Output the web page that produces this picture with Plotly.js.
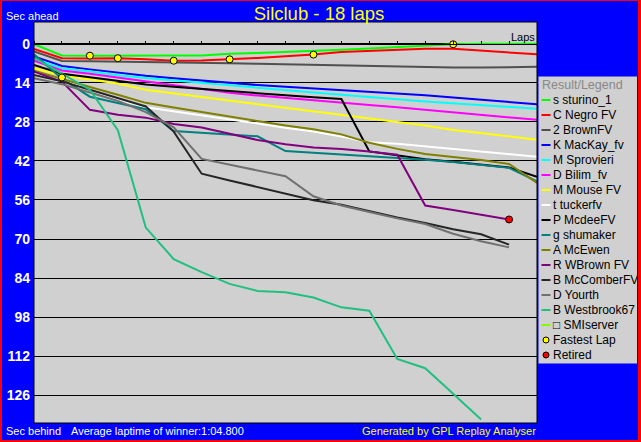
<!DOCTYPE html>
<html>
<head>
<meta charset="utf-8">
<script src="https://cdn.plot.ly/plotly-3.0.1.min.js"></script>
<style>
  html, body { margin: 0; padding: 0; background: #ff0000; width: 641px; height: 442px; overflow: hidden; }
  #chart { position: absolute; left: 2px; top: 1px; width: 636px; height: 439px; }
</style>
</head>
<body>
<div id="chart"></div>
<script>
// ---------------- data ----------------
const laps = [0,1,2,3,4,5,6,7,8,9,10,11,12,13,14,15,16,17,18];

const drivers = ["s sturino_1","C Negro FV","2 BrownFV","K MacKay_fv","M Sprovieri","D Bilim_fv",
  "M Mouse FV","t tuckerfv","P McdeeFV","g shumaker","A McEwen","R WBrown FV",
  "B McComberFV","D Yourth","B Westbrook67","\u25A1 SMIserver"];

const colors = ["#00ff00","#ff0000","#505050","#0000ff","#00ffff","#ff00ff",
  "#ffff00","#ffffff","#000000","#008080","#808000","#800080",
  "#262626","#707070","#20c080","#80ff00"];

const sturino    = [0.2,4.2,4.3,4.2,4.2,4.2,4.2,3.6,3.3,3.0,2.7,2.2,1.7,1.2,0.7,0.2,0,0,0];
const negro      = [1.9,5.2,5.3,5.2,5.6,6.1,6.0,5.6,5.1,4.5,3.9,3.0,2.6,2.1,1.8,1.8,2.4,3.1,3.8];
const brownfv    = [2.8,6.2,6.3,6.4,6.5,6.6,6.8,7.0,7.2,7.4,7.6,7.8,7.9,8.1,8.3,8.5,8.5,8.4,8.3];
const mackay     = [4.6,8.0,9.2,10.4,11.5,12.4,13.2,14.1,14.8,15.4,16.0,16.5,17.2,17.8,18.5,19.3,20.1,20.9,21.7];
const sprovieri  = [5.4,8.8,10.0,11.3,12.3,13.2,14.1,15.0,15.8,16.6,17.5,18.3,19.0,19.9,20.7,21.4,22.0,22.7,23.3];
const bilim      = [6.1,9.6,10.8,12.2,13.5,14.8,16.2,17.6,18.6,19.5,20.3,21.1,22.0,22.8,23.7,24.7,25.6,26.4,27.3];
const mouse      = [8.8,11.4,12.8,14.3,16.5,17.8,19.1,20.4,21.8,23.1,24.3,25.6,26.9,28.1,29.3,30.9,32.0,33.2,34.4];
const tucker     = [10.6,13.0,16.5,19.8,22.8,24.2,25.7,27.1,28.6,30.1,31.5,33.3,35.3,35.9,36.8,37.7,38.6,39.5,40.5];
const mcdee      = [7.6,10.8,12.0,13.2,14.6,15.4,16.2,17.0,17.9,18.5,19.2,19.8,38.6,40.0,41.4,42.3,43.3,44.4,47.7];
const shumaker   = [3.8,12.5,19.0,21.3,23.5,31.3,32.0,32.6,33.2,38.5,39.1,39.6,40.2,40.8,41.6,42.4,43.4,44.5,49.3];
const mcewen     = [9.7,12.7,15.5,18.3,21.2,22.9,24.5,26.2,27.9,29.3,30.7,32.5,35.5,37.7,39.5,40.6,41.7,43.1,49.9];
const wbrown     = [10.0,13.6,23.7,25.5,26.5,28.8,30.0,32.3,34.5,36.0,37.2,37.7,38.6,39.8,58.0,59.6,61.3,63.0];
const mccomber   = [11.2,13.5,16.5,19.5,22.5,31.5,46.6,49.0,51.4,53.8,56.1,57.7,60.0,62.3,64.3,66.5,68.3,72.0];
const yourth     = [12.4,14.5,17.5,20.5,24.5,30.0,41.3,43.4,45.4,47.5,54.7,58.0,60.3,62.6,64.6,68.1,70.8,73.0];
const westbrook  = [5.0,10.6,16.5,31.0,65.9,77.2,81.9,86.1,88.6,89.1,91.0,94.5,95.7,113.0,116.3,125.5,134.7];
const smiserver  = [];

const seriesData = [sturino,negro,brownfv,mackay,sprovieri,bilim,mouse,tucker,mcdee,
  shumaker,mcewen,wbrown,mccomber,yourth,westbrook,smiserver];

const fastestLapX = [1,2,3,5,7,10,15];
const fastestLapY = [12.1,4.3,5.2,6.1,5.6,3.9,0.2];
const retiredX = [17];
const retiredY = [63.0];

const yTicks = [0,14,28,42,56,70,84,98,112,126];

// ---------------- geometry helpers (page coords -> paper) ----------------
const plotL = 34, plotT = 22, plotW = 503, plotH = 401;
const px = X => (X - plotL) / plotW;
const py = Y => 1 - (Y - plotT) / plotH;

// ---------------- traces ----------------
const traces = [];
seriesData.forEach((d, i) => {
  traces.push({
    x: laps.slice(0, d.length), y: d, type: 'scatter', mode: 'lines',
    name: drivers[i], line: {color: colors[i], width: 2}, showlegend: false
  });
});
traces.push({x: fastestLapX, y: fastestLapY, type: 'scatter', mode: 'markers', name: 'Fastest Lap',
  marker: {color: '#ffff00', size: 7, line: {color: '#000000', width: 1}}, showlegend: false});
traces.push({x: retiredX, y: retiredY, type: 'scatter', mode: 'markers', name: 'Retired',
  marker: {color: '#ff0000', size: 7, line: {color: '#000000', width: 1}}, showlegend: false});

// ---------------- custom legend (text + small line/marker swatches) ----------------
const shapes = [
  {type: 'rect', xref: 'paper', yref: 'paper', x0: 0, x1: 1, y0: 0, y1: 1,
   line: {color: '#000000', width: 1}, fillcolor: 'rgba(0,0,0,0)', layer: 'above'},
  {type: 'rect', xref: 'paper', yref: 'paper', x0: px(538.5), x1: px(637), y0: py(363.5), y1: py(76.5),
   line: {width: 0}, fillcolor: '#d0d0d0', layer: 'below'}
];
const annotations = [
  {text: 'Result/Legend', xref: 'paper', yref: 'paper', x: px(540), y: py(85.5), xanchor: 'left', yanchor: 'middle',
   showarrow: false, font: {size: 12.5, color: '#888888'}}
];
const legendNames = drivers.concat(['Fastest Lap', 'Retired']);
legendNames.forEach((nm, i) => {
  const yc = 100 + 15 * i;
  if (i < drivers.length) {
    shapes.push({type: 'line', xref: 'paper', yref: 'paper', x0: px(541.5), x1: px(550.5), y0: py(yc), y1: py(yc),
      line: {color: colors[i], width: 2}});
  } else {
    const fc = nm === 'Fastest Lap' ? '#ffff00' : '#ff0000';
    shapes.push({type: 'circle', xref: 'paper', yref: 'paper',
      x0: px(543), x1: px(549), y0: py(yc + 3), y1: py(yc - 3),
      fillcolor: fc, line: {color: '#000000', width: 1}});
  }
  annotations.push({text: nm, xref: 'paper', yref: 'paper', x: px(550.5), y: py(yc), xanchor: 'left', yanchor: 'middle',
    showarrow: false, font: {size: 12, color: '#000000'}});
});

annotations.push(
  {text: 'Sec ahead', xref: 'paper', yref: 'paper', x: px(3.5), y: py(16), xanchor: 'left', yanchor: 'middle',
   showarrow: false, font: {size: 11, color: '#ffffff'}},
  {text: 'Sec behind', xref: 'paper', yref: 'paper', x: px(3.5), y: py(431), xanchor: 'left', yanchor: 'middle',
   showarrow: false, font: {size: 11, color: '#ffffff'}},
  {text: 'Average laptime of winner:1:04.800', xref: 'paper', yref: 'paper', x: px(68.5), y: py(431), xanchor: 'left', yanchor: 'middle',
   showarrow: false, font: {size: 11, color: '#ffffff'}},
  {text: 'Generated by GPL Replay Analyser', xref: 'paper', yref: 'paper', x: px(538), y: py(431), xanchor: 'right', yanchor: 'middle',
   showarrow: false, font: {size: 11, color: '#ffff00'}},
  {text: 'Laps', xref: 'paper', yref: 'paper', x: px(536.5), y: py(37.5), xanchor: 'right', yanchor: 'middle',
   showarrow: false, font: {size: 11, color: '#000000'}}
);

const layout = {
  width: 636, height: 439,
  margin: {l: 32, r: 101, t: 21, b: 17, pad: 0},
  paper_bgcolor: '#0000ff', plot_bgcolor: '#d0d0d0',
  font: {family: 'Liberation Sans, Arial, sans-serif'},
  title: {text: 'Silclub - 18 laps', xref: 'container', yref: 'container',
    x: (319 - 2) / 636, y: 1 - (13.5 - 1) / 439, xanchor: 'center', yanchor: 'middle',
    font: {size: 18.5, color: '#ffff00'}},
  showlegend: false,
  hovermode: false,
  xaxis: {range: [0, 18], autorange: false, side: 'top', anchor: 'free', position: py(43.7),
    showline: true, linecolor: '#000000', linewidth: 1, ticks: 'outside', ticklen: 3, tickcolor: '#000000',
    tickwidth: 1, dtick: 1, tick0: 0, showticklabels: false, showgrid: false, zeroline: false, fixedrange: true},
  yaxis: {range: [135.95, -7.78], autorange: false, tickvals: yTicks, ticktext: yTicks.map(String),
    showgrid: true, gridcolor: '#000000', gridwidth: 1, zeroline: false, showline: false, ticks: '',
    ticklabelstandoff: 3,
    tickfont: {size: 14, color: '#ffffff', weight: 'bold'}, fixedrange: true},
  shapes: shapes,
  annotations: annotations
};

Plotly.newPlot('chart', traces, layout, {displayModeBar: false, staticPlot: true});
</script>
</body>
</html>
